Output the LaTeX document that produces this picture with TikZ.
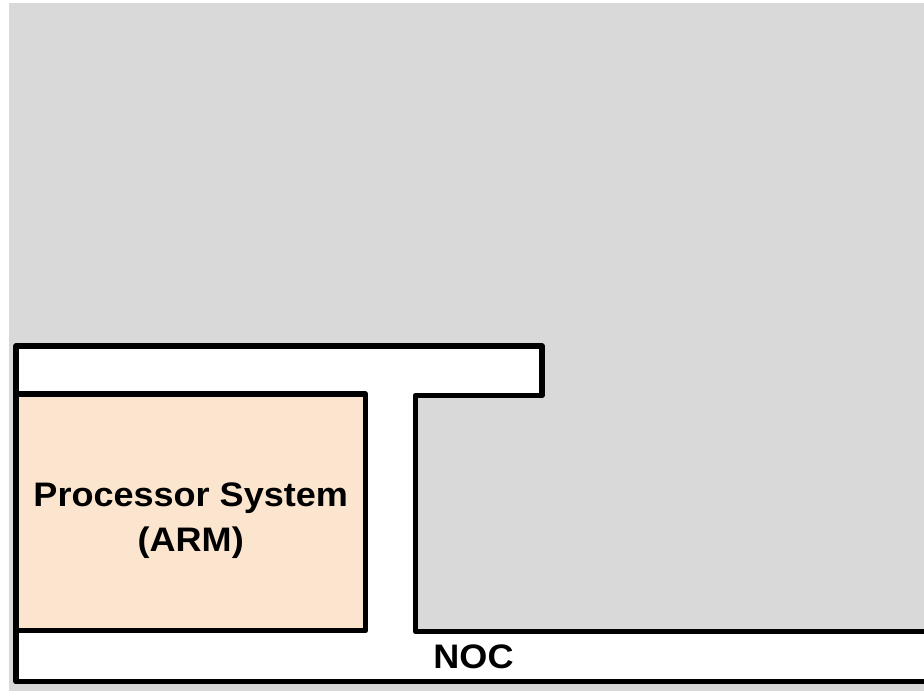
\documentclass[tikz,border=0pt]{standalone}
\usepackage{fontspec}
\newfontfamily\diagfont{Liberation Sans}[FakeStretch=1.06]
\usepackage{tikz}
\usetikzlibrary{positioning}
\definecolor{panel}{RGB}{217,217,217}
\definecolor{cpufill}{RGB}{252,229,206}

\begin{document}
\begin{tikzpicture}[x=0.75pt, y=-0.75pt,
  wall/.style={draw=black, line width=4.2pt, line join=round},
  blk/.style={wall, fill=cpufill, inner sep=0pt, outer sep=0pt, anchor=north west},
  lbl/.style={font=\diagfont\bfseries\fontsize{25.5}{33.75}\selectfont, align=center, inner sep=0pt, anchor=base}
]
\useasboundingbox (0,0) rectangle (924,691);
\clip (0,0) rectangle (924,691);
\fill[panel] (9,3) rectangle (924,691);
\draw[wall, fill=white] (16,346) -- (542,346) -- (542,395.5) -- (415.5,395.5)
  -- (415.5,631.5) -- (940,631.5) -- (940,681.5) -- (16,681.5) -- cycle;
\node[blk, minimum width=262.1pt, minimum height=177.4pt] (cpu) at (16,394) {};
\node[lbl] (cpulbl) at ([yshift=-29.25pt]cpu.center) {Processor System\\(ARM)};
\node[lbl] (noc) at (473.5,668) {NOC};
\end{tikzpicture}
\end{document}
